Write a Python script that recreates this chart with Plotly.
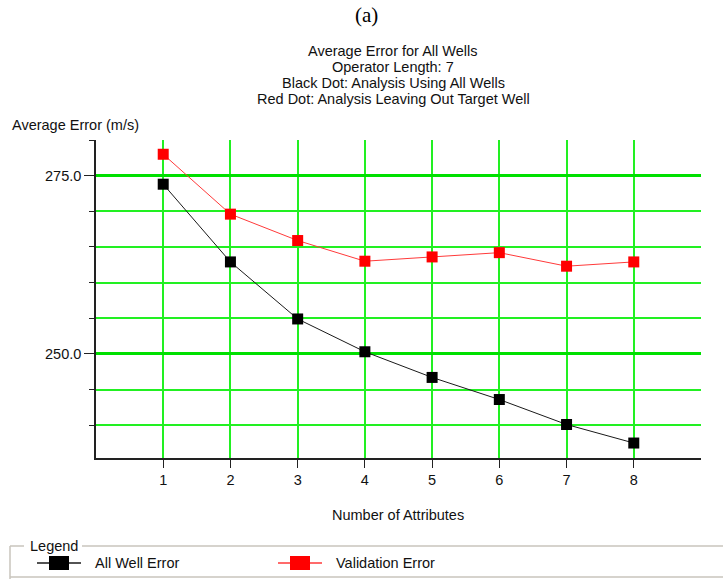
import plotly.graph_objects as go

# Number of attributes used in the analysis
attributes = [1, 2, 3, 4, 5, 6, 7, 8]
# Average error (m/s) using all wells
all_well_error = [273.8, 262.9, 254.9, 250.3, 246.7, 243.6, 240.1, 237.5]
# Average error (m/s) leaving out the target well
validation_error = [278.0, 269.6, 265.9, 263.0, 263.6, 264.2, 262.3, 262.9]

series_names = ["All Well Error", "Validation Error"]
series_colors = ["#000000", "#ff0000"]
line_colors = ["#1a1a1a", "#ff3a3a"]

y_tick_vals = [250, 275]
y_tick_text = ["250.0", "275.0"]

title_lines = [
    "Average Error for All Wells",
    "Operator Length: 7",
    "Black Dot: Analysis Using All Wells",
    "Red Dot: Analysis Leaving Out Target Well",
]

W, H = 723, 579
L, R, T, B = 96, 22, 140, 121
PW, PH = W - L - R, H - T - B


def px(x):
    return (x - L) / PW


def py(y):
    return (H - B - y) / PH


FONT = "Liberation Sans, Arial, sans-serif"
TXT = "#111111"
GREEN = "#22f022"
GREEN_MAJOR = "#00e000"

fig = go.Figure()
for ys, name, mc, lc in zip([all_well_error, validation_error], series_names, series_colors, line_colors):
    fig.add_trace(go.Scatter(
        x=attributes, y=ys, mode="lines+markers", name=name,
        line=dict(color=lc, width=1),
        marker=dict(symbol="square", size=11, color=mc, line=dict(width=0)),
        showlegend=False,
    ))

annotations = [
    dict(text="(a)", x=px(366), y=py(15), xref="paper", yref="paper",
         showarrow=False, font=dict(family="Liberation Serif, Times New Roman, serif", size=21, color="black"),
         xanchor="center", yanchor="middle"),
    dict(text="Average Error (m/s)", x=px(10), y=py(125), xref="paper", yref="paper",
         showarrow=False, font=dict(family=FONT, size=14.5, color=TXT),
         xanchor="left", yanchor="middle"),
    dict(text="Number of Attributes", x=px(398), y=py(515), xref="paper", yref="paper",
         showarrow=False, font=dict(family=FONT, size=14.5, color=TXT),
         xanchor="center", yanchor="middle"),
    dict(text="Legend", x=px(28), y=py(546), xref="paper", yref="paper",
         showarrow=False, font=dict(family=FONT, size=14.5, color=TXT),
         xanchor="left", yanchor="middle"),
]
for i, line in enumerate(title_lines):
    annotations.append(dict(
        text=line, x=px(393), y=py(51 + 16 * i), xref="paper", yref="paper",
        showarrow=False, font=dict(family=FONT, size=14.5, color=TXT),
        xanchor="center", yanchor="middle"))

# Group box framing the legend
box = "#c8c4bc"
shapes = [
    dict(type="line", xref="paper", yref="paper", x0=px(10), x1=px(24), y0=py(546), y1=py(546),
         line=dict(color=box, width=1.5)),
    dict(type="line", xref="paper", yref="paper", x0=px(82), x1=px(723), y0=py(546), y1=py(546),
         line=dict(color=box, width=1.5)),
    dict(type="line", xref="paper", yref="paper", x0=px(10), x1=px(10), y0=py(546), y1=py(579),
         line=dict(color=box, width=1.5)),
    dict(type="line", xref="paper", yref="paper", x0=px(10), x1=px(723), y0=py(577), y1=py(577),
         line=dict(color=box, width=1.5)),
]

# Legend entries: line swatch, filled block and label
legend_y = 563
for x_start, name, mc, lc in zip([37, 278], series_names, series_colors, line_colors):
    cx = x_start + 22
    shapes.append(dict(type="line", xref="paper", yref="paper",
                       x0=px(x_start), x1=px(x_start + 44), y0=py(legend_y), y1=py(legend_y),
                       line=dict(color=lc, width=1.5)))
    shapes.append(dict(type="rect", xref="paper", yref="paper",
                       x0=px(cx - 10), x1=px(cx + 10), y0=py(legend_y - 7), y1=py(legend_y + 7),
                       fillcolor=mc, line=dict(width=0)))
    annotations.append(dict(text=name, x=px(x_start + 56), y=py(legend_y), xref="paper", yref="paper",
                            showarrow=False, font=dict(family=FONT, size=14.5, color=TXT),
                            xanchor="left", yanchor="middle"))

fig.update_layout(
    width=W, height=H,
    margin=dict(l=L, r=R, t=T, b=B, pad=0, autoexpand=False),
    paper_bgcolor="white", plot_bgcolor="white",
    font=dict(family=FONT, size=14.5, color=TXT),
    showlegend=False,
    annotations=annotations,
    shapes=shapes,
)

fig.update_xaxes(
    range=[0, 9], tickvals=attributes, ticktext=[str(a) for a in attributes],
    ticks="outside", ticklen=8, tickcolor="#222", tickwidth=1,
    showline=True, linecolor="#222", linewidth=1.5,
    showgrid=True, gridcolor=GREEN, gridwidth=1.5,
    zeroline=False, fixedrange=True, automargin=False,
)
fig.update_yaxes(
    range=[235.4, 280], tickvals=y_tick_vals, ticktext=y_tick_text,
    ticks="outside", ticklen=10, tickcolor="#222", tickwidth=1,
    showline=True, linecolor="#222", linewidth=1.5,
    showgrid=True, gridcolor=GREEN_MAJOR, gridwidth=3,
    minor=dict(tick0=0, dtick=5, ticks="outside", ticklen=5, tickcolor="#222",
               showgrid=True, gridcolor=GREEN, gridwidth=1.5),
    zeroline=False, fixedrange=True, automargin=False,
)

fig.write_html("out.html")
